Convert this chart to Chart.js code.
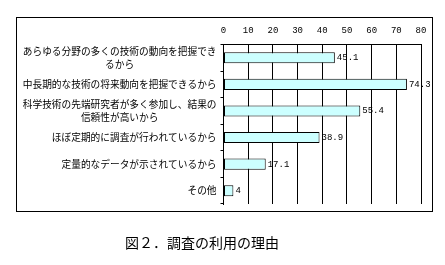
<!DOCTYPE html>
<html>
<head>
<meta charset="utf-8">
<script src="https://cdn.jsdelivr.net/npm/chart.js@4"></script>
<style>
    body { margin: 0; background: #fff; }
    #wrap { position: relative; width: 445px; height: 265px; }
    #caption {
        position: absolute;
        left: 125px;
        top: 235px;
        font: 14px/15px "Noto Sans CJK JP", sans-serif;
        color: #000;
        white-space: nowrap;
    }
</style>
</head>
<body>
<div id="wrap">
    <canvas id="reason-chart" width="445" height="265"></canvas>
    <div id="caption">図２．調査の利用の理由</div>
</div>
<script>
const categories = [
    ['あらゆる分野の多くの技術の動向を把握でき', 'るから'],
    ['中長期的な技術の将来動向を把握できるから'],
    ['科学技術の先端研究者が多く参加し、結果の', '信頼性が高いから'],
    ['ほぼ定期的に調査が行われているから'],
    ['定量的なデータが示されているから'],
    ['その他']
];
const values = [45.1, 74.3, 55.4, 38.9, 17.1, 4];
const axisMin = 0;
const axisMax = 80;
const axisStep = 10;

const jpFont = '9.7px "Noto Sans CJK JP", sans-serif';
const numFont = '9px "Liberation Mono", monospace';

// outer frame around the plot
const framePlugin = {
    id: 'frame',
    beforeDraw(chart) {
        const ctx = chart.ctx;
        ctx.save();
        ctx.strokeStyle = '#000';
        ctx.lineWidth = 1;
        ctx.strokeRect(16.5, 17.5, 416, 194);
        ctx.restore();
    }
};

// category labels: single lines right aligned, wrapped ones centred
const categoryLabelPlugin = {
    id: 'categoryLabels',
    afterDraw(chart) {
        const ctx = chart.ctx;
        const yScale = chart.scales.y;
        const rightEdge = yScale.right - 7;
        ctx.save();
        ctx.font = jpFont;
        ctx.fillStyle = '#000';
        ctx.textAlign = 'center';
        ctx.textBaseline = 'middle';
        categories.forEach((lines, i) => {
            const y = yScale.getPixelForValue(i);
            const maxWidth = Math.max(...lines.map(l => ctx.measureText(l).width));
            const cx = rightEdge - maxWidth / 2;
            lines.forEach((line, j) => {
                ctx.fillText(line, cx, y + (j - (lines.length - 1) / 2) * 12.5);
            });
        });
        ctx.restore();
    }
};

// value labels at the end of each bar
const valueLabelPlugin = {
    id: 'valueLabels',
    afterDatasetsDraw(chart) {
        const ctx = chart.ctx;
        const meta = chart.getDatasetMeta(0);
        ctx.save();
        ctx.font = numFont;
        ctx.fillStyle = '#000';
        ctx.textAlign = 'left';
        ctx.textBaseline = 'middle';
        meta.data.forEach((bar, i) => {
            ctx.fillText(String(values[i]), bar.x + 2, bar.y);
        });
        ctx.restore();
    }
};

new Chart(document.getElementById('reason-chart'), {
    type: 'bar',
    data: {
        labels: categories.map(l => l.join('')),
        datasets: [{
            data: values,
            backgroundColor: '#CCFFFF',
            borderColor: '#000',
            borderWidth: 1,
            borderSkipped: false,
            categoryPercentage: 1,
            barPercentage: 0.42
        }]
    },
    options: {
        indexAxis: 'y',
        responsive: false,
        animation: false,
        devicePixelRatio: 1,
        layout: {
            padding: { left: 16, right: 24, top: 20, bottom: 61 }
        },
        scales: {
            x: {
                position: 'top',
                min: axisMin,
                max: axisMax,
                afterFit(scale) { scale.height = 24.5; },
                ticks: {
                    stepSize: axisStep,
                    padding: 8,
                    color: '#000',
                    font: { family: '"Liberation Mono", monospace', size: 9 }
                },
                grid: {
                    color: '#000',
                    lineWidth: 1,
                    drawTicks: false
                },
                border: { display: true, color: '#000' }
            },
            y: {
                afterFit(scale) { scale.width = 207.5; },
                ticks: { display: false },
                grid: {
                    color: '#000',
                    drawOnChartArea: false,
                    tickLength: 3,
                    offset: true
                },
                border: { display: true, color: '#000' }
            }
        },
        plugins: {
            legend: { display: false },
            tooltip: { enabled: false }
        }
    },
    plugins: [framePlugin, categoryLabelPlugin, valueLabelPlugin]
});
</script>
</body>
</html>
